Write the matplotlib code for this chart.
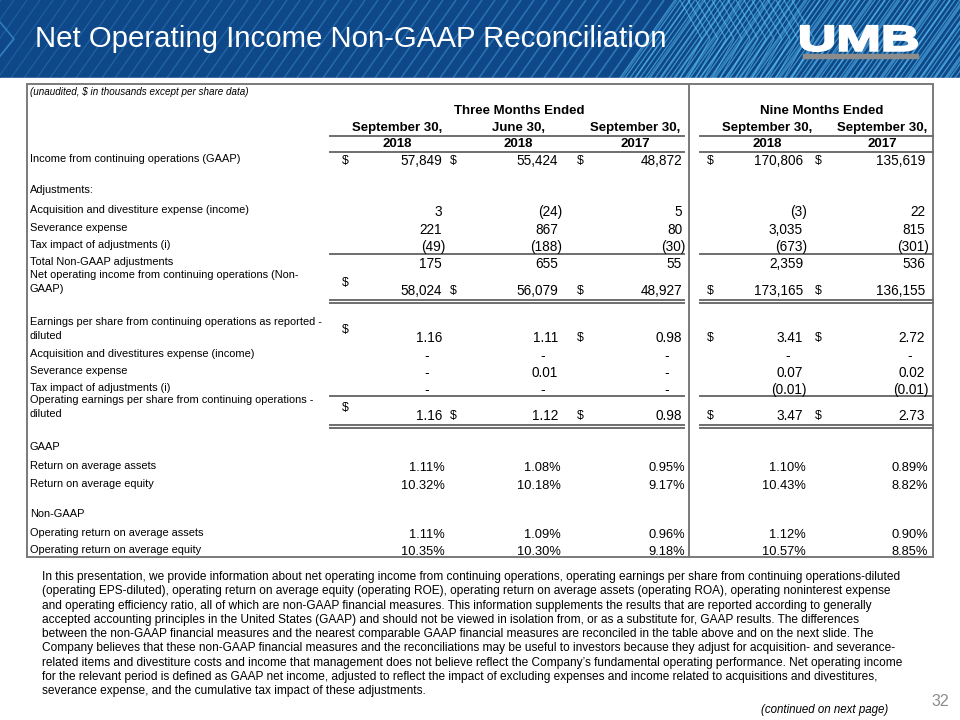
import matplotlib.pyplot as plt
import numpy as np
from matplotlib.patches import Rectangle, PathPatch
from matplotlib.textpath import TextPath
from matplotlib.font_manager import FontProperties
from matplotlib.transforms import Affine2D

plt.rcParams['font.family'] = ['Liberation Sans', 'DejaVu Sans']

# Slide text
title = "Net Operating Income Non-GAAP Reconciliation"
note = "(unaudited, $ in thousands except per share data)"
group_titles = ["Three Months Ended", "Nine Months Ended"]
col_months = ["September 30,", "June 30,", "September 30,", "September 30,", "September 30,"]
col_years = ["2018", "2018", "2017", "2018", "2017"]

# Table values (Q3'18, Q2'18, Q3'17, 9M'18, 9M'17)
income_gaap = [57849, 55424, 48872, 170806, 135619]
acq_expense = [3, -24, 5, -3, 22]
severance = [221, 867, 80, 3035, 815]
tax_impact = [-49, -188, -30, -673, -301]
total_adj = [175, 655, 55, 2359, 536]
net_op_income = [58024, 56079, 48927, 173165, 136155]
eps_reported = [1.16, 1.11, 0.98, 3.41, 2.72]
eps_acq = [0, 0, 0, 0, 0]
eps_severance = [0, 0.01, 0, 0.07, 0.02]
eps_tax = [0, 0, 0, -0.01, -0.01]
eps_operating = [1.16, 1.12, 0.98, 3.47, 2.73]
roa = [1.11, 1.08, 0.95, 1.10, 0.89]
roe = [10.32, 10.18, 9.17, 10.43, 8.82]
op_roa = [1.11, 1.09, 0.96, 1.12, 0.90]
op_roe = [10.35, 10.30, 9.18, 10.57, 8.85]

# $ signs per column: 0 none, 1 inline, 2 raised
dollars_income = [1, 1, 1, 1, 1]
dollars_netop = [2, 1, 1, 1, 1]
dollars_eps = [2, 0, 1, 1, 1]
dollars_opeps = [2, 1, 1, 1, 1]

paragraph = [
    "In this presentation, we provide information about net operating income from continuing operations, operating earnings per share from continuing operations-diluted",
    "(operating EPS-diluted), operating return on average equity (operating ROE), operating return on average assets (operating ROA), operating noninterest expense",
    "and operating efficiency ratio, all of which are non-GAAP financial measures. This information supplements the results that are reported according to generally",
    "accepted accounting principles in the United States (GAAP) and should not be viewed in isolation from, or as a substitute for, GAAP results. The differences",
    "between the non-GAAP financial measures and the nearest comparable GAAP financial measures are reconciled in the table above and on the next slide. The",
    "Company believes that these non-GAAP financial measures and the reconciliations may be useful to investors because they adjust for acquisition- and severance-",
    "related items and divestiture costs and income that management does not believe reflect the Company\u2019s fundamental operating performance. Net operating income",
    "for the relevant period is defined as GAAP net income, adjusted to reflect the impact of excluding expenses and income related to acquisitions and divestitures,",
    "severance expense, and the cumulative tax impact of these adjustments.",
]

# rows: (label lines, values, kind, dollar flags)
rows = [
    (["Income from continuing operations (GAAP)"], income_gaap, 'int', dollars_income),
    (["Adjustments:"], None, None, None),
    (["Acquisition and divestiture expense (income)"], acq_expense, 'int', None),
    (["Severance expense"], severance, 'int', None),
    (["Tax impact of adjustments (i)"], tax_impact, 'int', None),
    (["Total Non-GAAP adjustments"], total_adj, 'int', None),
    (["Net operating income from continuing operations (Non-", "GAAP)"], net_op_income, 'int', dollars_netop),
    (["Earnings per share from continuing operations as reported -", "diluted"], eps_reported, 'eps', dollars_eps),
    (["Acquisition and divestitures expense (income)"], eps_acq, 'eps', None),
    (["Severance expense"], eps_severance, 'eps', None),
    (["Tax impact of adjustments (i)"], eps_tax, 'eps', None),
    (["Operating earnings per share from continuing operations -", "diluted"], eps_operating, 'eps', dollars_opeps),
    (["GAAP"], None, None, None),
    (["Return on average assets"], roa, 'pct', None),
    (["Return on average equity"], roe, 'pct', None),
    (["Non-GAAP"], None, None, None),
    (["Operating return on average assets"], op_roa, 'pct', None),
    (["Operating return on average equity"], op_roe, 'pct', None),
]
# layout: y of each row (last line of label)
row_y = [161, 192, 212, 230, 247, 264, 291, 338, 356, 373, 390, 416, 449, 468, 486, 516, 535, 552]

col_right = [442, 558, 682, 803, 925]
col_dollar = [345, 453, 580, 710, 818]
col_center = [397, 518, 635, 767, 882]
group_center = [519, 822]
spans = [(330, 684), (700, 933)]

fig = plt.figure(figsize=(9.6, 7.2), dpi=100)
ax = fig.add_axes([0, 0, 1, 1])
ax.set_xlim(0, 960)
ax.set_ylim(720, 0)
ax.axis('off')

# header band
ax.add_patch(Rectangle((0, 0), 960, 78, color='#0e4888', zorder=0))
for x0 in np.arange(-80, 1000, 13):
    frac = np.clip(x0 / 960, 0, 1)
    ax.plot([x0, x0 + 55], [78, 0], color='#3f8fd2', lw=0.8 + 0.7 * frac,
            alpha=0.35 + 0.5 * frac, zorder=1, solid_capstyle='butt')
for x0 in np.arange(620, 1000, 5):
    ax.plot([x0, x0 + 55], [78, 0], color='#5cc6f4', lw=0.9, alpha=0.6, zorder=1)
for x0 in np.arange(680, 800, 8):
    ax.plot([x0, x0 + 22, x0], [0, 39, 78], color='#5cc6f4', lw=0.9, alpha=0.55, zorder=1)
ax.plot([0, 14, 0], [22, 39, 56], color='#3f8fd2', lw=1.2, alpha=0.7, zorder=1)
ax.add_patch(Rectangle((0, 78), 960, 642, color='white', zorder=1.5))

ax.text(35, 39, title, color='white', fontsize=21.2, va='center', ha='left', zorder=3)

# UMB logo
tp = TextPath((0, 0), "UMB", size=40, prop=FontProperties(family='Liberation Sans', weight='bold'))
ext = tp.get_extents()
sx = 116 / ext.width
sy = 25 / ext.height
tr = Affine2D().translate(-ext.x0, -ext.y0).scale(sx, -sy).translate(801, 51)
ax.add_patch(PathPatch(tr.transform_path(tp), facecolor='white', edgecolor='white', lw=1.6, zorder=3))
ax.add_patch(Rectangle((803, 53.5), 115, 4, color='#8c8c8c', zorder=3))

# table frame
ax.add_patch(Rectangle((27, 84), 906, 473, fill=False, edgecolor='#7a7a7a', lw=1.4, zorder=3))
ax.plot([689, 689], [84, 557], color='#7a7a7a', lw=1.4, zorder=3)

ax.text(30, 92, note, fontsize=7.1, style='italic', va='center', ha='left')

bold = dict(fontsize=9.5, fontweight='bold', va='center', ha='center')
for g, cx in zip(group_titles, group_center):
    ax.text(cx, 111, g, **bold)
for m, yr, cx in zip(col_months, col_years, col_center):
    ax.text(cx, 128, m, **bold)
    ax.text(cx, 144, yr, **bold)

line_kw = dict(color='#6e6e6e', lw=1.4, zorder=3)


def hline(y, double=False):
    for a, b in spans:
        ax.plot([a, b], [y, y], **line_kw)
        if double:
            ax.plot([a, b], [y + 2.5, y + 2.5], **line_kw)


hline(136)
hline(152)
hline(254)
hline(300, double=True)
hline(396)
hline(425, double=True)


def fmt(v, kind):
    if kind == 'pct':
        return f'{v:.2f}%', 3
    if v == 0:
        return '-', -13
    s = f'{abs(v):,}' if kind == 'int' else f'{abs(v):.2f}'
    if v < 0:
        return f'({s})', 4
    return s, 0


label_fs = 7.9
value_fs = 9.8
for (lines, vals, kind, dollars), y in zip(rows, row_y):
    n = len(lines)
    for i, ln in enumerate(lines):
        ax.text(30, y - 2 - (n - 1 - i) * 14, ln, fontsize=label_fs, va='center', ha='left')
    if vals is None:
        continue
    vfs = 9.3 if kind == 'pct' else value_fs
    for j, v in enumerate(vals):
        s, off = fmt(v, kind)
        ax.text(col_right[j] + off, y, s, fontsize=vfs, va='center', ha='right')
        if dollars is not None and dollars[j]:
            dy = -7 if dollars[j] == 2 else 0
            if dollars[j] == 2 and n == 2:
                dy = -8
            ax.text(col_dollar[j], y + dy, '$', fontsize=8.8, va='center', ha='center')

# footnote paragraph
for i, ln in enumerate(paragraph):
    ax.text(42, 577 + i * 14.3, ln, fontsize=8.6, va='center', ha='left')

ax.text(888, 710, "(continued on next page)", fontsize=8.3, style='italic', va='center', ha='right')
ax.text(940, 702, "32", fontsize=11.5, color='#8c8c8c', va='center', ha='center')

fig.savefig('out.png', dpi=100)
